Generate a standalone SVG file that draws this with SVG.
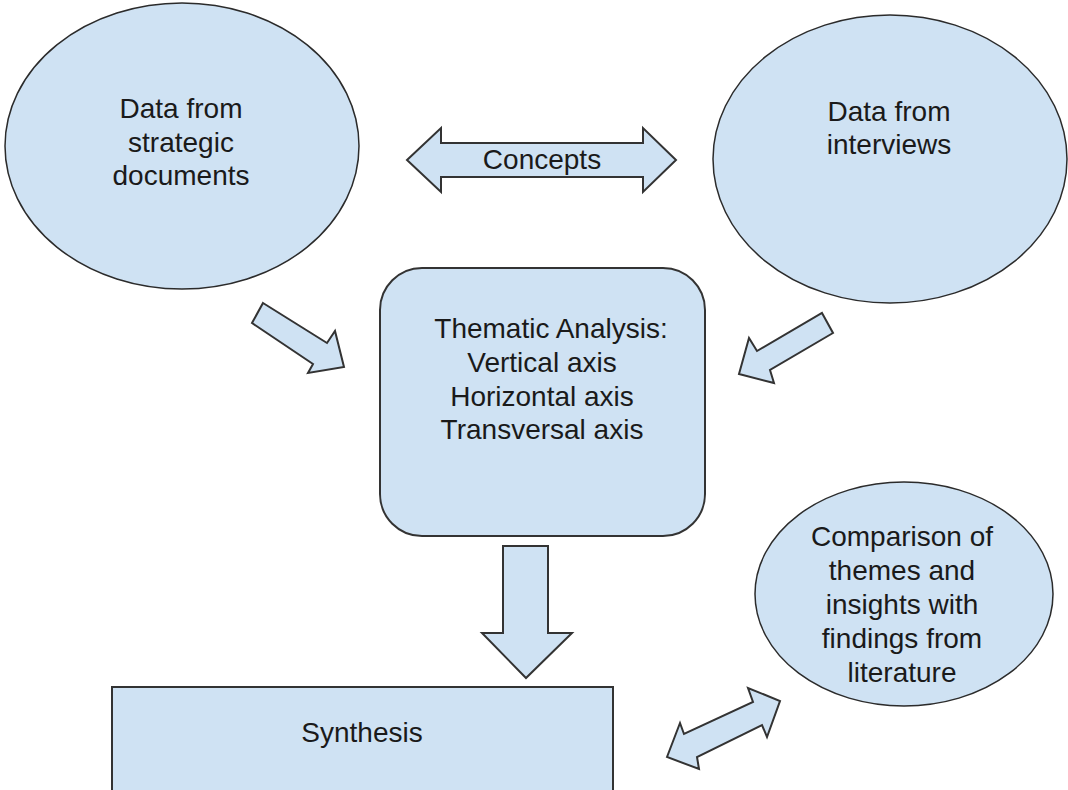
<svg xmlns="http://www.w3.org/2000/svg" width="1068" height="790" viewBox="0 0 1068 790">
<style>
.shape{fill:#cfe2f3;stroke:#2b2b2b;stroke-width:1.5;stroke-linejoin:miter}
.box{fill:#cfe2f3;stroke:#333;stroke-width:2}
.arr{fill:#cfe2f3;stroke:#333;stroke-width:2;stroke-linejoin:miter}
text{font-family:"Liberation Sans",Arial,sans-serif;font-size:28px;fill:#1a1a1a;text-anchor:middle}
</style>
<rect width="1068" height="790" fill="#fff"/>
<g id="connectors">
<polygon class="arr" points="407,160 441,128 441,143 643,143 643,128 676,160 643,192 643,177 441,177 441,192"/>
<polygon class="arr" points="263,303 327,343 335,331 344,367 308,373 313,364 252,323"/>
<polygon class="arr" points="822,313 833,333 770,370 774,383 739,374 749,338 757,351"/>
<polygon class="arr" points="503,546 548,546 548,633 572,633 526,678 482,633 503,633"/>
<polygon class="arr" points="667,757 680,723 684,734 753,702 748,688 780,701 767,737 762,725 697,757 699,769"/>
<text x="542" y="169">Concepts</text>
</g>
<g id="node-strategic">
<ellipse class="shape" cx="182" cy="146" rx="177" ry="143"/>
<text x="181" y="118">Data from</text>
<text x="181" y="152">strategic</text>
<text x="181" y="185">documents</text>
</g>
<g id="node-interviews">
<ellipse class="shape" cx="890" cy="159" rx="177" ry="144"/>
<text x="889" y="121">Data from</text>
<text x="889" y="154">interviews</text>
</g>
<g id="node-thematic">
<rect class="box" x="380" y="268" width="325" height="268" rx="42" ry="42"/>
<text x="551" y="338">Thematic Analysis:</text>
<text x="542" y="372">Vertical axis</text>
<text x="542" y="406">Horizontal axis</text>
<text x="542" y="439">Transversal axis</text>
</g>
<g id="node-synthesis">
<rect class="box" x="112" y="687" width="501" height="110"/>
<text x="362" y="742">Synthesis</text>
</g>
<g id="node-comparison">
<ellipse class="shape" cx="904" cy="594" rx="149" ry="112"/>
<text x="902" y="546">Comparison of</text>
<text x="902" y="580">themes and</text>
<text x="902" y="614">insights with</text>
<text x="902" y="648">findings from</text>
<text x="902" y="682">literature</text>
</g>
</svg>
